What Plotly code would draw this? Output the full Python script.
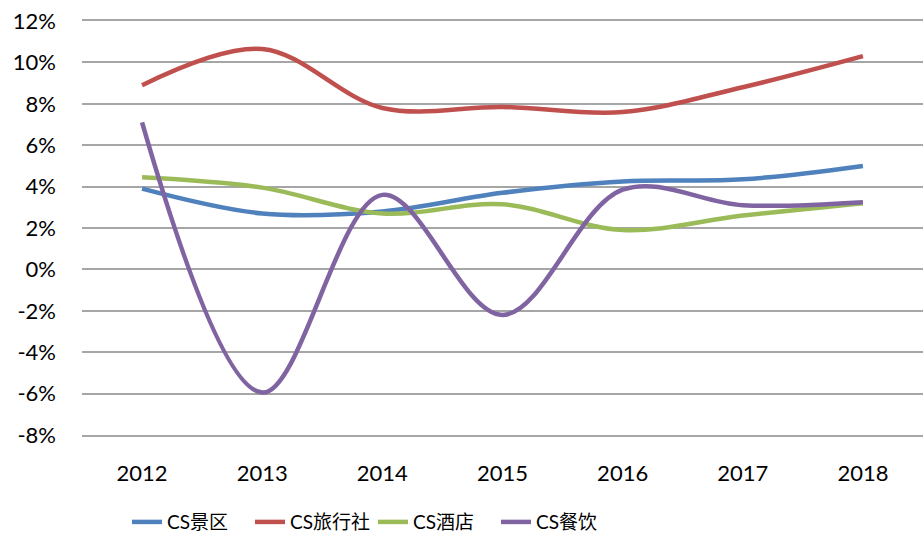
import plotly.graph_objects as go

years = ["2012", "2013", "2014", "2015", "2016", "2017", "2018"]
jingqu = [3.9, 2.7, 2.8, 3.7, 4.25, 4.35, 5.0]
lvxingshe = [8.9, 10.65, 7.8, 7.85, 7.6, 8.8, 10.3]
jiudian = [4.45, 3.95, 2.7, 3.15, 1.9, 2.6, 3.2]
canyin = [7.1, -5.95, 3.6, -2.2, 3.85, 3.1, 3.25]

y_tickvals = [-8, -6, -4, -2, 0, 2, 4, 6, 8, 10, 12]
y_ticktext = ["-8%", "-6%", "-4%", "-2%", "0%", "2%", "4%", "6%", "8%", "10%", "12%"]

names = ["CS景区", "CS旅行社", "CS酒店", "CS餐饮"]
colors = ["#4F81BD", "#C0504D", "#9BBB59", "#8064A2"]
series = [jingqu, lvxingshe, jiudian, canyin]

fig = go.Figure()
for name, vals, col in zip(names, series, colors):
    fig.add_trace(go.Scatter(
        x=years, y=vals, name=name, mode="lines",
        line=dict(color=col, width=4.5, shape="spline", smoothing=1.0),
    ))

font_family = "Lato, 'Noto Sans CJK SC', sans-serif"
grid = "#A6A6A6"
fig.update_layout(
    width=923, height=536,
    margin=dict(l=82, r=0, t=21, b=101, autoexpand=False),
    paper_bgcolor="white", plot_bgcolor="white",
    font=dict(family=font_family, size=22, color="#000000"),
    showlegend=True,
    legend=dict(orientation="h", xref="container", yref="container",
                x=0.1376, xanchor="left", y=0.026, yanchor="middle",
                font=dict(family=font_family, size=19), itemwidth=30,
                entrywidth=78, entrywidthmode="pixels",
                bgcolor="rgba(0,0,0,0)"),
    xaxis=dict(type="category", range=[-0.5, 6.5], showgrid=False, zeroline=False,
               showline=True, linecolor=grid, linewidth=1.5, mirror=True,
               ticks="", ticklabelstandoff=18, automargin=False,
               tickfont=dict(family=font_family, size=22)),
    yaxis=dict(range=[-8, 12], tickvals=y_tickvals, ticktext=y_ticktext,
               showgrid=True, gridcolor=grid, gridwidth=1.5, zeroline=False,
               showline=False, ticks="", ticklabelstandoff=25, automargin=False,
               tickfont=dict(family=font_family, size=22)),
)

fig.write_html("out.html", config={"displayModeBar": False},
               post_script="document.body.style.margin='0';document.body.style.padding='0';")
